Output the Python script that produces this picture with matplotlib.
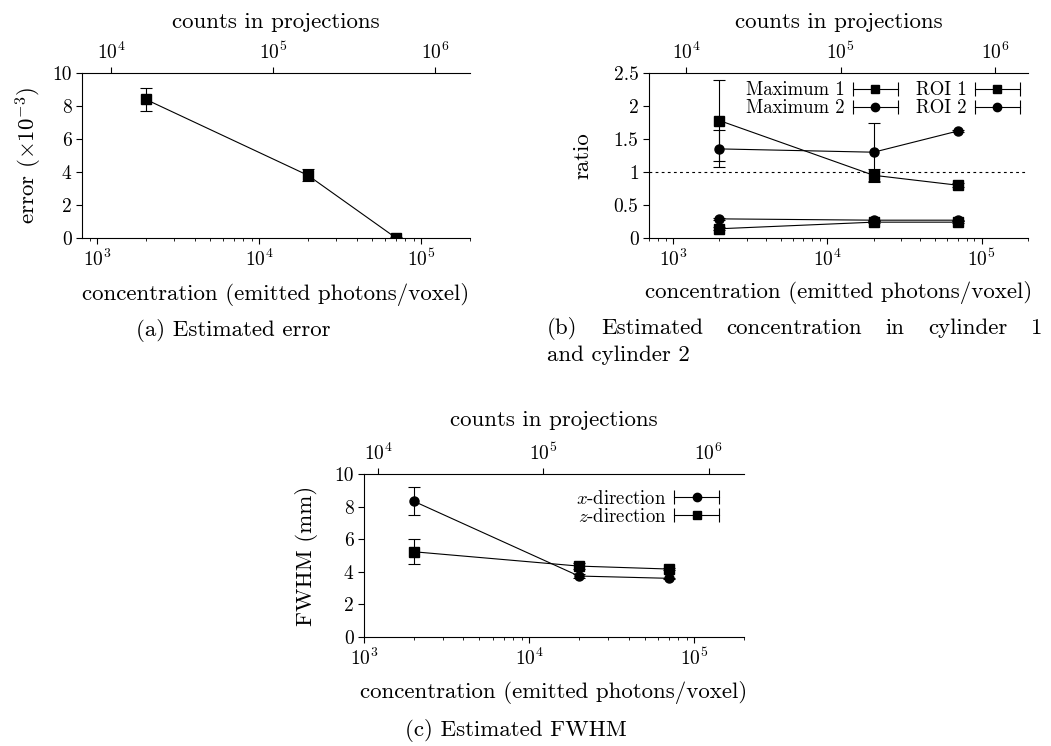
import numpy as np
import matplotlib
matplotlib.use("Agg")
import matplotlib.pyplot as plt
from matplotlib.container import ErrorbarContainer
from matplotlib.legend_handler import HandlerBase
from matplotlib.lines import Line2D
from matplotlib.ticker import FormatStrFormatter

plt.rcParams['font.family'] = 'serif'
plt.rcParams['font.serif'] = ['cmr10']
plt.rcParams['mathtext.fontset'] = 'cm'
plt.rcParams['axes.formatter.use_mathtext'] = True

# concentration (emitted photons/voxel)
conc = [2e3, 2e4, 7e4]
# counts in projections per emitted photon/voxel
count_factor = 8.2

# (a) estimated error, x1e-3
err = [8.4, 3.8, 0.0]
err_sd = [0.7, 0.37, 0.05]

# (b) ratios
max1 = [1.78, 0.95, 0.80]
max1_sd = [0.61, 0.09, 0.03]
max2 = [1.35, 1.30, 1.62]
max2_sd = [0.28, 0.45, 0.02]
roi1 = [0.14, 0.24, 0.24]
roi1_sd = [0.02, 0.02, 0.02]
roi2 = [0.29, 0.27, 0.27]
roi2_sd = [0.02, 0.01, 0.01]

# (c) FWHM in mm
xdir = [8.33, 3.74, 3.60]
xdir_sd = [0.86, 0.12, 0.05]
zdir = [5.23, 4.35, 4.17]
zdir_sd = [0.77, 0.20, 0.08]

W, H = 1051, 746
tick_fs = 14
label_fs = 16.5
leg_fs = 13.5


class HandlerHBar(HandlerBase):
    # legend key drawn as |--marker--|
    def create_artists(self, legend, orig_handle, xdescent, ydescent,
                       width, height, fontsize, trans):
        y = height / 2 - ydescent
        x0, x1 = -xdescent, width - xdescent
        mk = orig_handle[0].get_marker()
        line = Line2D([x0, x1], [y, y], color='black', lw=0.8)
        caps = Line2D([x0, x1], [y, y], ls='none', marker='|', ms=10,
                      mew=0.8, color='black')
        dot = Line2D([(x0 + x1) / 2], [y], ls='none', marker=mk, ms=6,
                     color='black')
        for a in (line, caps, dot):
            a.set_transform(trans)
        return [line, caps, dot]


def make_axes(left, top, right, bottom, xlim, toplab_y, botlab_y):
    ax = fig.add_axes([left / W, 1 - bottom / H, (right - left) / W, (bottom - top) / H])
    ax.set_xscale('log')
    ax.set_xlim(xlim)
    ax.spines['right'].set_visible(False)
    ax.spines['top'].set_visible(False)
    ax.tick_params(direction='out', length=4, width=0.8, labelsize=tick_fs,
                   right=False, top=False)
    ax.tick_params(which='minor', bottom=False, top=False)
    ax.yaxis.set_major_formatter(FormatStrFormatter('%g'))
    for s in ax.spines.values():
        s.set_linewidth(0.8)

    top_ax = ax.twiny()
    top_ax.set_xscale('log')
    top_ax.set_xlim(xlim[0] * count_factor, xlim[1] * count_factor)
    for k in ('left', 'right', 'bottom'):
        top_ax.spines[k].set_visible(False)
    top_ax.spines['top'].set_linewidth(0.8)
    top_ax.tick_params(direction='out', length=4, width=0.8, labelsize=tick_fs)
    top_ax.tick_params(which='minor', top=False)
    top_ax.set_xlabel('counts in projections', fontsize=label_fs)
    top_ax.xaxis.set_label_coords(0.5, 1 + (top - toplab_y) / (bottom - top))
    top_ax.xaxis.label.set_va('center')

    ax.set_xlabel('concentration (emitted photons/voxel)', fontsize=label_fs)
    ax.xaxis.set_label_coords(0.5, -(botlab_y - bottom) / (bottom - top))
    ax.xaxis.label.set_va('center')
    return ax


def draw(ax, y, sd, marker):
    return ax.errorbar(conc, y, yerr=sd, color='black', lw=0.8, marker=marker,
                       ms=6.5, capsize=4.5, elinewidth=0.8, capthick=0.8)


def justified(text, x0, x1, y):
    # spread the words of one caption line over [x0, x1] pixels
    words = text.split()
    arts = [fig.text(0, 1 - y / H, w, fontsize=label_fs, ha='left', va='center')
            for w in words]
    r = fig.canvas.get_renderer()
    widths = [a.get_window_extent(r).width for a in arts]
    gap = (x1 - x0 - sum(widths)) / (len(words) - 1)
    x = x0
    for a, w in zip(arts, widths):
        a.set_x(x / W)
        x += w + gap


fig = plt.figure(figsize=(W / 100, H / 100), dpi=100)

# (a)
ax_a = make_axes(82, 73, 470, 238, (8.08e2, 2e5), 22, 294)
draw(ax_a, err, err_sd, 's')
ax_a.set_ylim(0, 10)
ax_a.set_yticks([0, 2, 4, 6, 8, 10])
ax_a.set_ylabel(r'error $(\times10^{-3})$', fontsize=label_fs)
ax_a.yaxis.set_label_coords(-(82 - 29) / 388, 0.5)
ax_a.yaxis.label.set_va('center')

# (b)
ax_b = make_axes(649, 73, 1028, 238, (7.0e2, 2e5), 22, 293)
h1 = draw(ax_b, max1, max1_sd, 's')
h2 = draw(ax_b, max2, max2_sd, 'o')
h3 = draw(ax_b, roi1, roi1_sd, 's')
h4 = draw(ax_b, roi2, roi2_sd, 'o')
ax_b.axhline(1, color='black', lw=0.8, ls=(0, (2.5, 3)))
ax_b.set_ylim(0, 2.5)
ax_b.set_yticks([0, 0.5, 1, 1.5, 2, 2.5])
ax_b.set_ylabel('ratio', fontsize=label_fs)
ax_b.yaxis.set_label_coords(-(649 - 583) / 379, 0.5)
ax_b.yaxis.label.set_va('center')
ax_b.legend([h1, h2, h3, h4], ['Maximum 1', 'Maximum 2', 'ROI 1', 'ROI 2'],
            handler_map={ErrorbarContainer: HandlerHBar()}, ncol=2,
            markerfirst=False, frameon=False, fontsize=leg_fs, loc='upper right',
            bbox_to_anchor=(1.0, 1.0), borderaxespad=0.05, handlelength=2.4,
            handletextpad=0.4, labelspacing=0.0, columnspacing=1.0)

# (c)
ax_c = make_axes(364, 474, 744, 637, (1e3, 2e5), 420, 692)
hx = draw(ax_c, xdir, xdir_sd, 'o')
hz = draw(ax_c, zdir, zdir_sd, 's')
ax_c.set_ylim(0, 10)
ax_c.set_yticks([0, 2, 4, 6, 8, 10])
ax_c.set_ylabel('FWHM (mm)', fontsize=label_fs)
ax_c.yaxis.set_label_coords(-(364 - 307) / 380, 0.5)
ax_c.yaxis.label.set_va('center')
ax_c.legend([hx, hz], [r'$x$-direction', r'$z$-direction'],
            handler_map={ErrorbarContainer: HandlerHBar()},
            markerfirst=False, frameon=False, fontsize=leg_fs, loc='upper right',
            bbox_to_anchor=(0.955, 0.95), borderaxespad=0, handlelength=2.4,
            handletextpad=0.4, labelspacing=0.0)

# captions
fig.text(233 / W, 1 - 331 / H, '(a) Estimated error', fontsize=label_fs,
         ha='center', va='center')
justified('(b) Estimated concentration in cylinder 1', 547, 1042, 328)
fig.text(547 / W, 1 - 355 / H, 'and cylinder 2', fontsize=label_fs,
         ha='left', va='center')
fig.text(516 / W, 1 - 730 / H, '(c) Estimated FWHM', fontsize=label_fs,
         ha='center', va='center')

fig.savefig('out.png', dpi=100)
